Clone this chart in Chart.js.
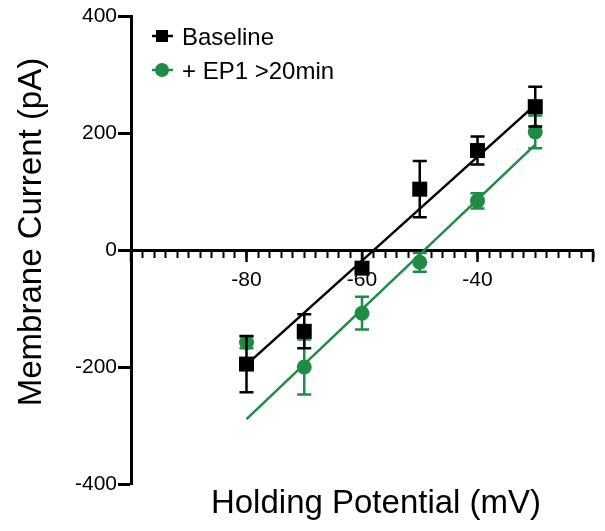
<!DOCTYPE html>
<html>
<head>
<meta charset="utf-8">
<script src="https://cdn.jsdelivr.net/npm/chart.js@4.4.1/dist/chart.umd.min.js"></script>
<style>
  body { margin: 0; background: #fff; }
  #wrap { width: 605px; height: 531px; }
</style>
</head>
<body>
<div id="wrap"><canvas id="myChart" width="605" height="531"></canvas></div>
<script>
// holding potentials (mV)
const potentials = [-80, -70, -60, -50, -40, -30];
// mean membrane current (pA) and error bars
const baseline = [-195, -139, -31, 104, 170, 245];
const baselineErr = [48, 29, 8, 48, 24, 34];
const ep1 = [-158, -200, -108, -21, 84, 202];
const ep1Err = [10, 47, 28, 16, 13, 28];
// fitted lines, read at the two end potentials
const fitX = [-80, -30];
const baselineFit = [-196, 248];
const ep1Fit = [-289, 180];
const yTicks = [-400, -200, 0, 200, 400];
const xLabels = [-80, -60, -40];

const BLACK = "#000000";
const GREEN = "#1f8c46";
const FONT = "Arial, 'Liberation Sans', sans-serif";

const toPoints = (xs, ys) => xs.map((x, i) => ({ x: x, y: ys[i] }));

// error bars drawn under each dataset's markers
const errorBars = {
  id: "errorBars",
  beforeDatasetDraw(chart, args) {
    const ds = chart.data.datasets[args.index];
    if (!ds.errors) return;
    const ctx = chart.ctx;
    const xs = chart.scales.x;
    const ys = chart.scales.y;
    ctx.save();
    ctx.strokeStyle = ds.borderColor;
    ctx.lineWidth = 2.5;
    ds.data.forEach((p, i) => {
      const px = xs.getPixelForValue(p.x);
      const top = ys.getPixelForValue(p.y + ds.errors[i]);
      const bot = ys.getPixelForValue(p.y - ds.errors[i]);
      ctx.beginPath();
      ctx.moveTo(px, top);
      ctx.lineTo(px, bot);
      ctx.moveTo(px - 7, top);
      ctx.lineTo(px + 7, top);
      ctx.moveTo(px - 7, bot);
      ctx.lineTo(px + 7, bot);
      ctx.stroke();
    });
    ctx.restore();
  },
};

// longer major ticks on the x axis, axis titles and legend
const decorations = {
  id: "decorations",
  afterDraw(chart) {
    const ctx = chart.ctx;
    const xs = chart.scales.x;
    const ys = chart.scales.y;
    const y0 = ys.getPixelForValue(0);
    ctx.save();
    ctx.strokeStyle = BLACK;
    ctx.lineWidth = 2.5;
    for (let v = -100; v <= -20; v += 20) {
      const px = xs.getPixelForValue(v);
      ctx.beginPath();
      ctx.moveTo(px, y0);
      ctx.lineTo(px, y0 + 12);
      ctx.stroke();
    }

    ctx.fillStyle = BLACK;
    ctx.font = "33px " + FONT;
    ctx.textAlign = "center";
    ctx.textBaseline = "alphabetic";
    ctx.fillText("Holding Potential (mV)", 376, 513);
    ctx.save();
    ctx.translate(41, 232);
    ctx.rotate(-Math.PI / 2);
    ctx.fillText("Membrane Current (pA)", 0, 0);
    ctx.restore();

    // legend
    const items = [
      { text: "Baseline", color: BLACK, shape: "rect", y: 36 },
      { text: "+ EP1 >20min", color: GREEN, shape: "circle", y: 70 },
    ];
    ctx.font = "24px " + FONT;
    ctx.textAlign = "left";
    items.forEach((it) => {
      ctx.strokeStyle = it.color;
      ctx.fillStyle = it.color;
      ctx.lineWidth = 2.5;
      ctx.beginPath();
      ctx.moveTo(152, it.y);
      ctx.lineTo(173, it.y);
      ctx.stroke();
      ctx.beginPath();
      if (it.shape === "rect") ctx.rect(156, it.y - 6, 12, 12);
      else ctx.arc(162, it.y, 7, 0, Math.PI * 2);
      ctx.fill();
      ctx.fillStyle = BLACK;
      ctx.fillText(it.text, 182, it.y + 9);
    });
    ctx.restore();
  },
};

const myChart = new Chart(document.getElementById("myChart"), {
  type: "scatter",
  data: {
    datasets: [
      {
        label: "Baseline",
        data: toPoints(potentials, baseline),
        errors: baselineErr,
        pointStyle: "rect",
        pointRadius: 10.6,
        backgroundColor: BLACK,
        borderColor: BLACK,
        borderWidth: 0,
        order: 0,
      },
      {
        label: "+ EP1 >20min",
        data: toPoints(potentials, ep1),
        errors: ep1Err,
        pointStyle: "circle",
        pointRadius: 7.5,
        backgroundColor: GREEN,
        borderColor: GREEN,
        borderWidth: 0,
        order: 1,
      },
      {
        label: "Baseline fit",
        data: toPoints(fitX, baselineFit),
        showLine: true,
        pointRadius: 0,
        borderColor: BLACK,
        borderWidth: 2.5,
        order: 2,
      },
      {
        label: "EP1 fit",
        data: toPoints(fitX, ep1Fit),
        showLine: true,
        pointRadius: 0,
        borderColor: GREEN,
        borderWidth: 2.5,
        order: 3,
      },
    ],
  },
  options: {
    responsive: false,
    devicePixelRatio: 1,
    animation: false,
    layout: { padding: { left: 0, top: 16, right: 10, bottom: 47 } },
    plugins: {
      legend: { display: false },
      tooltip: { enabled: false },
    },
    scales: {
      x: {
        type: "linear",
        min: -100,
        max: -20,
        position: { y: 0 },
        border: { display: true, color: BLACK, width: 3 },
        grid: {
          display: true,
          drawOnChartArea: false,
          drawTicks: true,
          tickLength: 6,
          tickWidth: 2,
          tickColor: BLACK,
        },
        ticks: {
          stepSize: 2,
          autoSkip: false,
          maxRotation: 0,
          padding: 12,
          color: BLACK,
          font: { size: 21, family: FONT },
          callback: (v) => (xLabels.includes(v) ? String(v) : ""),
        },
      },
      y: {
        type: "linear",
        min: -400,
        max: 400,
        afterFit: (s) => { s.width = 131; },
        afterBuildTicks: (s) => { s.ticks = yTicks.map((v) => ({ value: v })); },
        border: { display: true, color: BLACK, width: 3 },
        grid: {
          display: true,
          drawOnChartArea: false,
          drawTicks: true,
          tickLength: 13,
          tickWidth: 3,
          tickColor: BLACK,
        },
        ticks: {
          padding: 1,
          color: BLACK,
          font: { size: 21, family: FONT },
        },
      },
    },
  },
  plugins: [errorBars, decorations],
});
</script>
</body>
</html>
